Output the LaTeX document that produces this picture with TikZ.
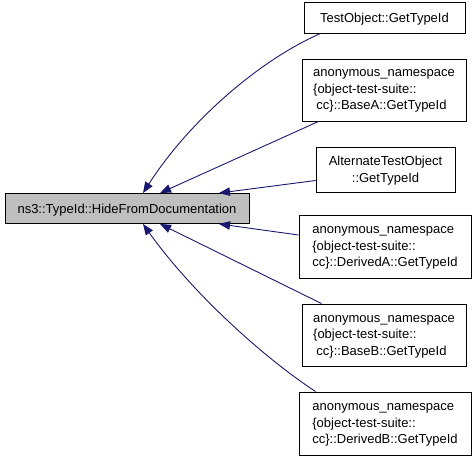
\documentclass[tikz,border=0pt]{standalone}
\usepackage{fontspec}
\setmainfont{Liberation Sans}
\usetikzlibrary{arrows.meta}
\definecolor{edgeblue}{HTML}{191970}
\definecolor{mainfill}{HTML}{BFBFBF}
\begin{document}
\begin{tikzpicture}[x=1pt,y=-1pt,
  box/.style={draw=black, line width=0.9pt, fill=white, inner sep=0pt,
    font=\fontsize{13}{16.5}\selectfont, align=left, text depth=0pt},
  mainbox/.style={box, fill=mainfill},
  edge/.style={draw=edgeblue, line width=0.9pt,
    {Triangle[length=11pt,width=8.5pt]}-}]
\useasboundingbox (0,0) rectangle (475,461);
\node[mainbox, minimum width=244pt, minimum height=30pt] (main) at (127,208.5) {ns3::TypeId::HideFromDocumentation};
\node[box, minimum width=161pt, minimum height=31pt] (n1) at (384.5,17.5) {TestObject::GetTypeId};
\node[box, minimum width=164pt, minimum height=62pt] (n2) at (384,90) {anonymous\_namespace\\\{object-test-suite::\\\hspace*{3.3pt}cc\}::BaseA::GetTypeId};
\node[box, minimum width=139pt, minimum height=45pt, align=center] (n3) at (385.5,169.5) {AlternateTestObject\\::GetTypeId};
\node[box, minimum width=172pt, minimum height=63pt] (n4) at (385,246.5) {anonymous\_namespace\\\{object-test-suite::\\cc\}::DerivedA::GetTypeId};
\node[box, minimum width=164pt, minimum height=62pt] (n5) at (384,335) {anonymous\_namespace\\\{object-test-suite::\\\hspace*{3.3pt}cc\}::BaseB::GetTypeId};
\node[box, minimum width=172pt, minimum height=63pt] (n6) at (385,423.5) {anonymous\_namespace\\\{object-test-suite::\\cc\}::DerivedB::GetTypeId};
\draw[edge] ([xshift=16pt]main.north) .. controls (190,120) and (260,60) .. ([xshift=17pt]n1.south west);
\draw[edge] ([xshift=33pt]main.north) -- ([xshift=17pt]n2.south west);
\draw[edge] ([xshift=92pt]main.north) -- ([yshift=-11pt]n3.west);
\draw[edge] ([xshift=92pt]main.south) -- ([yshift=11.5pt]n4.west);
\draw[edge] ([xshift=33pt]main.south) -- ([xshift=20pt]n5.north west);
\draw[edge] ([xshift=16pt]main.south) .. controls (190,290) and (260,355) .. ([xshift=17pt]n6.north west);
\end{tikzpicture}
\end{document}
